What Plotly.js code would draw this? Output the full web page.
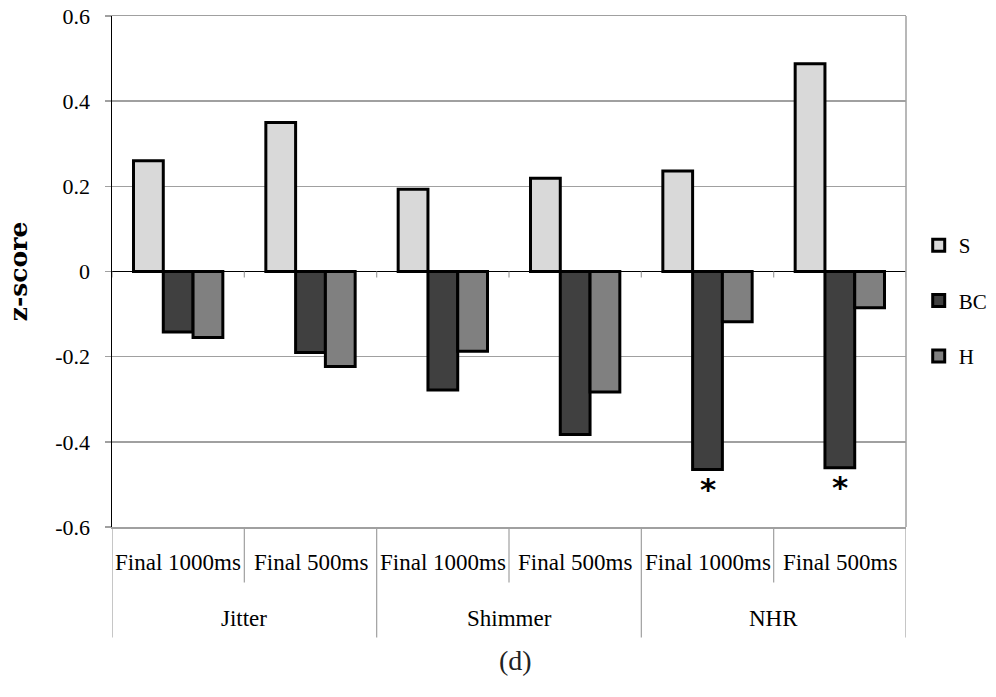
<!DOCTYPE html>
<html>
<head>
<meta charset="utf-8">
<script src="https://cdn.plot.ly/plotly-3.0.1.min.js"></script>
<style>html,body{margin:0;padding:0;background:#fff;}#chart{width:996px;height:697px;}</style>
</head>
<body>
<div id="chart"></div>
<script>
// ---- data ----
const groups = ["Jitter", "Shimmer", "NHR"];
const periods = ["Final 1000ms", "Final 500ms"];
const seriesNames = ["S", "BC", "H"];
const valuesS  = [0.260, 0.350, 0.193, 0.219, 0.236, 0.488];
const valuesBC = [-0.142, -0.190, -0.278, -0.383, -0.465, -0.461];
const valuesH  = [-0.155, -0.223, -0.187, -0.283, -0.118, -0.085];
const significantBC = [false, false, false, false, true, true];
const yTickVals = [0.6, 0.4, 0.2, 0, -0.2, -0.4, -0.6];
const yTickText = ["0.6", "0.4", "0.2", "0", "-0.2", "-0.4", "-0.6"];
const colors = ["#d9d9d9", "#404040", "#808080"];

// build category keys
const cats = [];
const catLabels = [];
groups.forEach(g => periods.forEach(p => { cats.push(g + " | " + p); catLabels.push(p); }));

const serif = "Liberation Serif, Times New Roman, serif";
const allVals = [valuesS, valuesBC, valuesH];
const traces = allVals.map((v, i) => ({
  type: "bar",
  name: seriesNames[i],
  x: cats,
  y: v,
  legendgroup: seriesNames[i],
  marker: {color: colors[i], line: {color: "#000", width: 3}},
  hoverinfo: "skip"
}));

const annotations = [];
const shapes = [];
// sub-category labels
cats.forEach((c, i) => annotations.push({
  xref: "x", yref: "paper", x: c, y: -0.069, text: catLabels[i], showarrow: false,
  font: {family: serif, size: 23, color: "#000"}, yanchor: "middle"
}));
// group labels
groups.forEach((g, gi) => annotations.push({
  xref: "x", yref: "paper", x: gi * periods.length + (periods.length - 1) / 2, y: -0.179, text: g,
  showarrow: false, font: {family: serif, size: 23, color: "#000"}, yanchor: "middle"
}));
// significance asterisks
cats.forEach((c, i) => {
  if (significantBC[i]) annotations.push({
    xref: "x", yref: "y", x: c, y: valuesBC[i], text: "<b>*</b>", showarrow: false,
    font: {family: "DejaVu Sans", size: 31, color: "#000"}, yanchor: "top", yshift: 1
  });
});
// caption
annotations.push({xref: "paper", yref: "paper", x: 0.508, y: -0.262, text: "(d)", showarrow: false,
  font: {family: serif, size: 28, color: "#222"}, yanchor: "middle"});

// table lines below plot
const n = cats.length;
for (let k = 0; k <= n; k++) {
  const isGroupEdge = k % periods.length === 0;
  shapes.push({type: "line", xref: "x", yref: "paper", x0: k - 0.5, x1: k - 0.5,
    y0: 0, y1: isGroupEdge ? -0.216 : -0.1085, line: {color: "#a0a0a0", width: 1.2}});
  // small ticks on the zero line
  shapes.push({type: "line", xref: "x", yref: "y", ysizemode: "pixel", yanchor: 0,
    x0: k - 0.5, x1: k - 0.5, y0: 0, y1: -6, line: {color: "#a0a0a0", width: 1.2}});
}
// right border in gray
shapes.push({type: "line", xref: "paper", yref: "paper", x0: 1, x1: 1, y0: 1, y1: 0, line: {color: "#a0a0a0", width: 1.5}});

const layout = {
  width: 996, height: 697,
  margin: {l: 112, r: 90, t: 16, b: 170, autoexpand: false},
  paper_bgcolor: "#fff", plot_bgcolor: "#fff",
  barmode: "group", bargap: 0.325, bargroupgap: 0,
  showlegend: true,
  legend: {x: 1.016, xanchor: "left", y: 0.443, yanchor: "middle", tracegroupgap: 25,
    font: {family: serif, size: 21, color: "#000"}, itemwidth: 30, bgcolor: "rgba(0,0,0,0)"},
  xaxis: {type: "category", range: [-0.5, n - 0.5], showticklabels: false, ticks: "",
    showgrid: false, zeroline: false, showline: true, mirror: true, linecolor: "#a0a0a0", linewidth: 1.5, fixedrange: true},
  yaxis: {range: [-0.6, 0.6], tickvals: yTickVals, ticktext: yTickText, ticks: "outside", ticklen: 6,
    tickcolor: "#a0a0a0", tickwidth: 1.5, ticklabelstandoff: 10,
    tickfont: {family: serif, size: 22, color: "#000"},
    showgrid: true, gridcolor: "#a0a0a0", gridwidth: 1.5,
    zeroline: true, zerolinecolor: "#000", zerolinewidth: 1.5,
    showline: true, linecolor: "#000", linewidth: 1.5,
    title: {text: "z-score", font: {family: "DejaVu Serif", size: 25, color: "#000", weight: "bold"}, standoff: 20},
    fixedrange: true},
  annotations: annotations,
  shapes: shapes
};

Plotly.newPlot("chart", traces, layout, {displayModeBar: false, staticPlot: true});
</script>
</body>
</html>
